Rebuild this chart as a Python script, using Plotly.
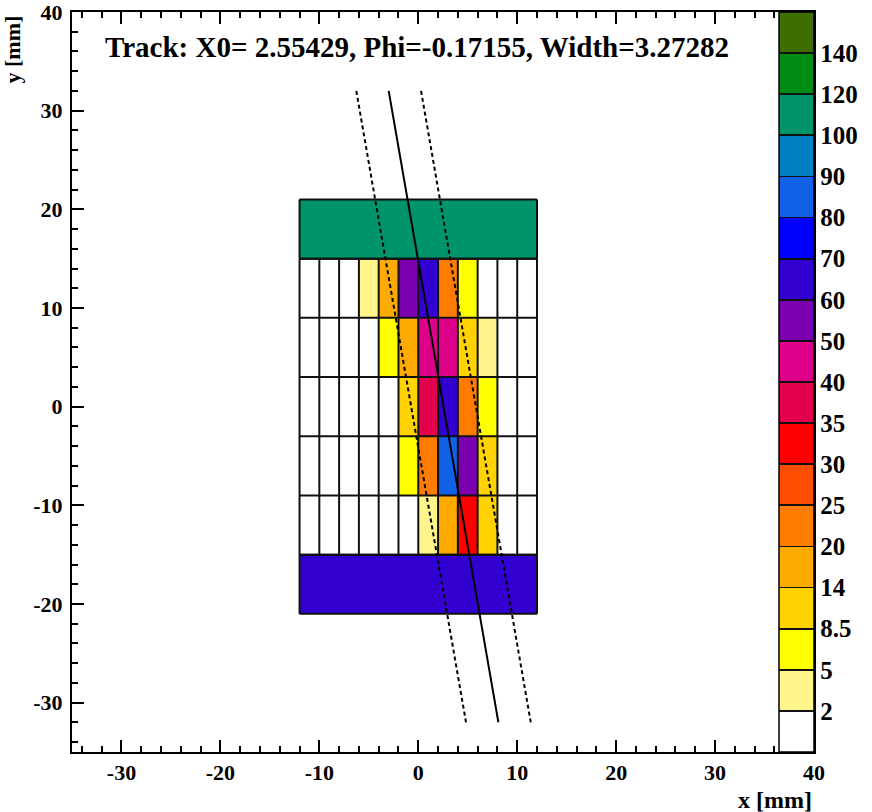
import numpy as np
import plotly.graph_objects as go

# ---------------- data ----------------
X_EDGES = [-12, -10, -8, -6, -4, -2, 0, 2, 4, 6, 8, 10, 12]
Y_EDGES = [-15, -9, -3, 3, 9, 15]
# rows listed bottom (y=-15..-9) to top (y=9..15)
CELL_VALUES = [
    [0, 0, 0, 0, 0, 0, 3, 17, 32, 11, 0, 0],
    [0, 0, 0, 0, 0, 7, 22, 85, 55, 11, 0, 0],
    [0, 0, 0, 0, 0, 11, 37, 65, 22, 7, 0, 0],
    [0, 0, 0, 0, 7, 17, 45, 45, 11, 3, 0, 0],
    [0, 0, 0, 3, 17, 55, 65, 22, 7, 0, 0, 0],
]
BAR_X_EDGES = [-12, 12]
BAR_Y_EDGES = [-21, -15, 15, 21]
BAR_VALUES = [65, None, 110]          # bottom bar, gap, top bar

LEVELS = [0, 2, 5, 8.5, 14, 20, 25, 30, 35, 40, 50, 60, 70, 80, 90, 100, 120, 140, 160]
LEVEL_LABELS = ["2", "5", "8.5", "14", "20", "25", "30", "35", "40", "50", "60",
                "70", "80", "90", "100", "120", "140"]
COLORS = ["#FFFFFF", "#FFF58A", "#FFFF00", "#FFD200", "#FFAA00", "#FF7C00", "#FF4E00",
          "#FF0000", "#E5004D", "#DD0088", "#7A00B0", "#3300D2", "#0000FF", "#1060E8",
          "#0080C4", "#00946A", "#008C14", "#3E6E00"]

X0 = 2.55429
PHI = -0.17155
WIDTH = 3.27282
TRACK_Y = [32, -32]

X_TICKS = [-30, -20, -10, 0, 10, 20, 30, 40]
Y_TICKS = [-30, -20, -10, 0, 10, 20, 30, 40]

# ---------------- helpers ----------------
NB = len(COLORS)


def to_index(v):
    if v is None:
        return None
    return int(np.searchsorted(LEVELS, v, side="right") - 1) + 0.5


eps = 0.9 / 740
SEP = "#111111"
cscale = []
for i, c in enumerate(COLORS):
    lo, hi = i / NB, (i + 1) / NB
    if i == 0:
        cscale.append([0.0, c])
    else:
        cscale.append([lo + eps, c])
    if i == NB - 1:
        cscale.append([1.0, c])
    else:
        cscale.append([hi - eps, c])
        cscale.append([hi - eps, SEP])
        cscale.append([hi + eps, SEP])

FONT = "Liberation Serif"

fig = go.Figure()

fig.add_trace(go.Heatmap(
    x=X_EDGES, y=Y_EDGES,
    z=[[to_index(v) for v in row] for row in CELL_VALUES],
    coloraxis="coloraxis", hoverinfo="skip"))
fig.add_trace(go.Heatmap(
    x=BAR_X_EDGES, y=BAR_Y_EDGES,
    z=[[to_index(v)] for v in BAR_VALUES],
    coloraxis="coloraxis", hoverinfo="skip"))

# cell borders
gx, gy = [], []
for xe in X_EDGES:
    gx += [xe, xe, None]
    gy += [Y_EDGES[0], Y_EDGES[-1], None]
for ye in Y_EDGES + BAR_Y_EDGES:
    gx += [BAR_X_EDGES[0], BAR_X_EDGES[1], None]
    gy += [ye, ye, None]
for xe in BAR_X_EDGES:
    gx += [xe, xe, None, xe, xe, None]
    gy += [BAR_Y_EDGES[0], BAR_Y_EDGES[1], None, BAR_Y_EDGES[2], BAR_Y_EDGES[3], None]
fig.add_trace(go.Scatter(x=gx, y=gy, mode="lines", line=dict(color="#111111", width=2),
                         hoverinfo="skip", showlegend=False))

# track lines
tx = [X0 + y * np.tan(PHI) for y in TRACK_Y]
off = WIDTH
fig.add_trace(go.Scatter(x=tx, y=TRACK_Y, mode="lines", line=dict(color="black", width=2),
                         showlegend=False, hoverinfo="skip"))
for s in (-1, 1):
    fig.add_trace(go.Scatter(x=[v + s * off for v in tx], y=TRACK_Y, mode="lines",
                             line=dict(color="black", width=2, dash="4px,3px"),
                             showlegend=False, hoverinfo="skip"))

L, R, T, B = 72, 58, 12, 60
PW, PH = 872 - L - R, 812 - T - B

axis_common = dict(
    showgrid=False, zeroline=False, showline=True, linecolor="black", linewidth=2,
    mirror="ticks", ticks="inside", ticklen=12, tickwidth=1.5, tickcolor="black",
    minor=dict(dtick=2, ticks="inside", ticklen=6, tickwidth=1.5, tickcolor="black"),
    tickfont=dict(family=FONT, size=22, color="black", weight="bold"),
    ticklabeloverflow="allow",
)

fig.update_layout(
    width=872, height=812,
    margin=dict(l=L, r=R, t=T, b=B, autoexpand=False),
    paper_bgcolor="white", plot_bgcolor="white",
    showlegend=False,
    xaxis=dict(range=[-35, 40], tickvals=X_TICKS, ticktext=[str(v) for v in X_TICKS],
               ticklabelstandoff=0, **axis_common),
    yaxis=dict(range=[-35, 40], tickvals=Y_TICKS, ticktext=[str(v) for v in Y_TICKS],
               ticklabelstandoff=3, **axis_common),
    coloraxis=dict(
        colorscale=cscale, cmin=0, cmax=NB,
        colorbar=dict(
            x=(779 - L) / PW, xanchor="left", xpad=0, ypad=0,
            y=0.5, yanchor="middle", len=1, lenmode="fraction",
            thickness=35, thicknessmode="pixels",
            outlinewidth=1.5, outlinecolor="black",
            tickvals=list(range(1, NB)), ticktext=LEVEL_LABELS,
            ticks="", ticklen=4,
            tickfont=dict(family=FONT, size=25, color="black", weight="bold"),
        ),
    ),
    annotations=[
        dict(text="Track: X0= 2.55429, Phi=-0.17155, Width=3.27282",
             xref="paper", yref="paper", x=(417 - L) / PW, y=1 - (47 - T) / PH,
             xanchor="center", yanchor="middle", showarrow=False,
             font=dict(family=FONT, size=29, color="black", weight="bold")),
        dict(text="x [mm]", xref="paper", yref="paper", x=(814 - L) / PW,
             y=-(800 - 752) / PH, xanchor="right", yanchor="middle", showarrow=False,
             font=dict(family=FONT, size=24, color="black", weight="bold")),
        dict(text="y [mm]", xref="paper", yref="paper", x=(-2 - L) / PW,
             y=1 - 2 / PH, xanchor="left", yanchor="top", textangle=-90,
             showarrow=False,
             font=dict(family=FONT, size=22, color="black", weight="bold")),
    ],
)

fig.write_html("out.html")
